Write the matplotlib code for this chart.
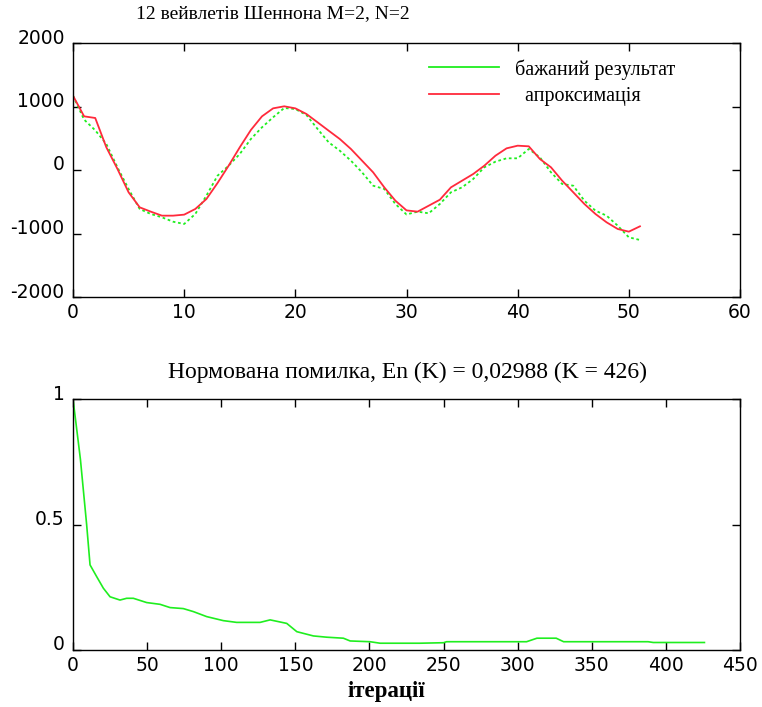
import matplotlib
matplotlib.use("Agg")
import matplotlib.pyplot as plt
from matplotlib.lines import Line2D
from matplotlib.transforms import ScaledTranslation

plt.rcParams["axes.unicode_minus"] = False

# ---- data ----
samples = list(range(52))
approx = [1170, 845, 819, 357, 16, -351, -588, -656, -719, -719,
          -703, -614, -457, -205, 68, 357, 630, 845, 971, 1003,
          971, 882, 751, 619, 488, 331, 147, -37, -273, -483,
          -636, -656, -562, -468, -273, -168, -63, 68, 225, 341,
          383, 373, 173, 42, -168, -351, -535, -693, -824, -929,
          -971, -887]
desired = [1170, 793, 625, 409, 42, -299, -614, -693, -745, -814,
           -850, -693, -404, -90, 68, 252, 488, 672, 830, 976,
           960, 866, 646, 436, 304, 147, -37, -247, -299, -535,
           -700, -656, -682, -535, -351, -273, -142, 42, 131, 184,
           184, 331, 200, -37, -220, -247, -483, -641, -719, -877,
           -1060, -1102]

iters = [0, 5, 9.2, 11.5, 16, 20.5, 25, 31.7, 36.2, 40.7, 49.7, 58.7, 65.5,
         74.4, 81.2, 90.2, 101.4, 110.4, 126.2, 133, 144.2, 151, 162.2,
         171.2, 182.4, 187, 200.4, 207.2, 234, 250, 252, 306, 313, 326,
         331, 388, 391.5, 426]
err = [1.0, 0.76, 0.5, 0.339, 0.292, 0.246, 0.212, 0.199, 0.206, 0.206,
       0.189, 0.182, 0.169, 0.165, 0.153, 0.133, 0.117, 0.110, 0.110,
       0.120, 0.106, 0.073, 0.056, 0.051, 0.047, 0.036, 0.033, 0.027,
       0.027, 0.029, 0.033, 0.033, 0.047, 0.047, 0.033, 0.033, 0.0299,
       0.02988]

top_xticks = [0, 10, 20, 30, 40, 50, 60]
top_yticks = [-2000, -1000, 0, 1000, 2000]
bot_xticks = [0, 50, 100, 150, 200, 250, 300, 350, 400, 450]
bot_yticks = [0, 0.5, 1]
bot_yticklabels = ["0", "0.5", "1"]

title_top = "12 вейвлетів Шеннона M=2, N=2"
title_bot = "Нормована помилка, En (K) = 0,02988 (K = 426)"
xlabel_bot = "ітерації"
legend_labels = ["бажаний результат", "  апроксимація"]

W, H = 762, 707
fig = plt.figure(figsize=(W / 100, H / 100), dpi=100)

def px_axes(l, t, r, b):
    return fig.add_axes([l / W, 1 - b / H, (r - l) / W, (b - t) / H])

ax1 = px_axes(73, 43, 740, 297)
ax2 = px_axes(73, 399, 740, 650)

GREEN = "#1fee1f"
RED = "#ff2a3c"

ax1.plot(samples, desired, color=GREEN, lw=1.3, ls=(0, (1.5, 1.5)))
ax1.plot(samples, approx, color=RED, lw=1.3)
ax1.set_xlim(0, 60)
ax1.set_ylim(-2000, 2000)
ax1.set_xticks(top_xticks)
ax1.set_yticks(top_yticks)

ax2.plot(iters, err, color=GREEN, lw=1.2)
ax2.set_xlim(0, 450)
ax2.set_ylim(0, 1)
ax2.set_xticks(bot_xticks)
ax2.set_yticks(bot_yticks)
ax2.set_yticklabels(bot_yticklabels)

for ax in (ax1, ax2):
    for s in ax.spines.values():
        s.set_linewidth(1.0)
    ax.tick_params(direction="in", length=6, width=1.0, top=True, right=True,
                   labelsize=13.5, colors="black")
    ax.tick_params(axis="y", pad=6)
    ax.tick_params(axis="x", pad=4)
    off = ScaledTranslation(0, 7 / 100, fig.dpi_scale_trans)
    for lab in ax.get_yticklabels():
        lab.set_transform(lab.get_transform() + off)

handles = [Line2D([], [], color=GREEN, lw=1.3), Line2D([], [], color=RED, lw=1.3)]
leg = ax1.legend(handles, legend_labels, loc="upper left",
                 bbox_to_anchor=((429 - 73) / 667, (297 - 59) / 254),
                 frameon=False, handlelength=3.5, handletextpad=0.75,
                 labelspacing=0.35, borderaxespad=0, borderpad=0,
                 prop={"family": "Liberation Serif", "size": 14.5})

fig.text(273 / W, 1 - 14 / H, title_top, ha="center", va="center",
         family="Liberation Serif", fontsize=14)
fig.text(407 / W, 1 - 372 / H, title_bot, ha="center", va="center",
         family="Liberation Serif", fontsize=17)
fig.text(386 / W, 1 - 691 / H, xlabel_bot, ha="center", va="center",
         family="Liberation Serif", fontsize=16.5, fontweight="bold")

fig.savefig("out.png", dpi=100)
